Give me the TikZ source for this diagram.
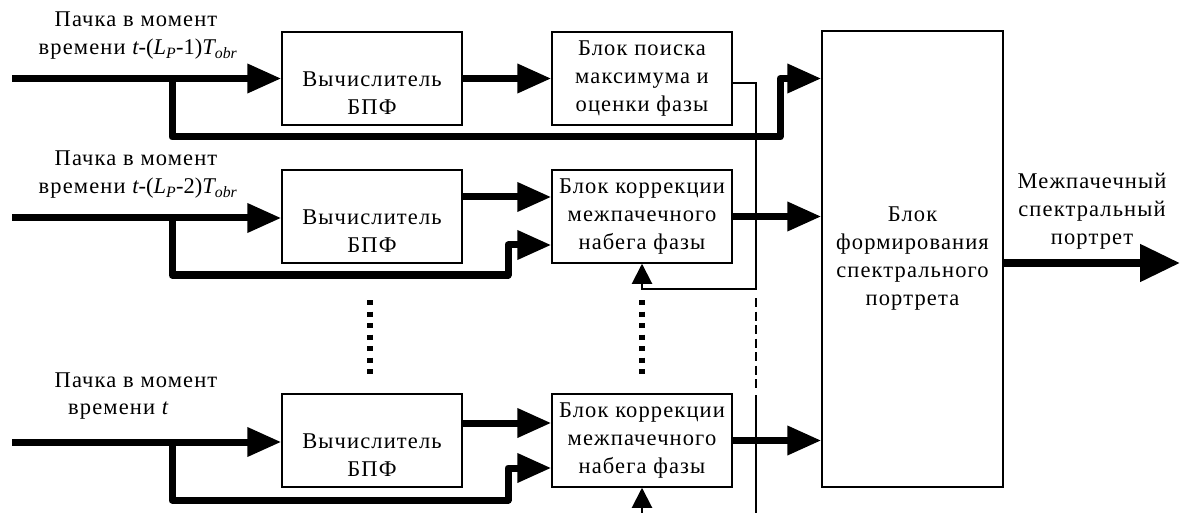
\documentclass[tikz,border=0pt]{standalone}
\usepackage{fontspec}
\setmainfont{Liberation Serif}[LetterSpace=5]
\newfontfamily\formulafont{Liberation Serif}
\usetikzlibrary{arrows.meta,calc}
\begin{document}
\begin{tikzpicture}[x=1pt,y=-1pt,
  font=\fontsize{22.5}{28}\selectfont,
  box/.style={draw, line width=1.5pt, minimum width=180pt, minimum height=93pt, inner sep=0pt, align=center},
  vtxt/.style={align=center, inner sep=0pt, yshift=-15pt},
  txt/.style={inner sep=0pt, anchor=base},
  bus/.style={line width=7pt, line join=round, -{Triangle[length=34pt,width=28pt]}},
  outbus/.style={line width=8pt, -{Triangle[length=40pt,width=36pt]}},
  sig/.style={line width=2pt},
  sigarrow/.style={sig, -{Triangle[length=20pt,width=20pt]}},
  dashline/.style={line width=2.6pt, dash pattern=on 9pt off 4.5pt},
  dotline/.style={line width=5.5pt, dash pattern=on 5pt off 6.5pt}]
\useasboundingbox (0,0) rectangle (1181,513);

% boxes
\node[box, label={[vtxt]center:{Вычислитель\\БПФ}}] (v1) at (372,78.5) {};
\node[box, label={[vtxt]center:{Вычислитель\\БПФ}}] (v2) at (372,216.5) {};
\node[box, label={[vtxt]center:{Вычислитель\\БПФ}}] (v3) at (372,440.5) {};
\node[box] (p) at (642,78.5) {Блок поиска\\максимума и\\оценки фазы};
\node[box] (c2) at (642,216.5) {Блок коррекции\\межпачечного\\набега фазы};
\node[box] (c3) at (642,440.5) {Блок коррекции\\межпачечного\\набега фазы};
\node[box, minimum width=181pt, minimum height=456pt] (big) at (912.5,259) {Блок\\формирования\\спектрального\\портрета};

% input labels
\node[txt] (l1a) at (136,27) {Пачка в момент};
\node[txt] (l1b) at (138,55) {времени {\formulafont\itshape t\upshape-(\itshape L\textsubscript{P}\upshape-1)\itshape T\textsubscript{obr}}};
\node[txt] (l2a) at (136,166) {Пачка в момент};
\node[txt] (l2b) at (138,194) {времени {\formulafont\itshape t\upshape-(\itshape L\textsubscript{P}\upshape-2)\itshape T\textsubscript{obr}}};
\node[txt] (l3a) at (136,387) {Пачка в момент};
\node[txt, anchor=base west] (l3b) at (68,414) {времени {\formulafont\itshape t}};
\node[align=center, inner sep=0pt] (lout) at (1092,211) {Межпачечный\\спектральный\\портрет};

% coordinates
\coordinate (in1) at (12,78.5);
\coordinate (in2) at (12,218);
\coordinate (in3) at (12,442);
\coordinate (j1) at (172,78.5);
\coordinate (j2) at (172,218);
\coordinate (j3) at (172,442);
\coordinate (k1) at (780,137);
\coordinate (k2) at (508,275);
\coordinate (k3) at (508,500);
\coordinate (f1) at (756,289);
\coordinate (f2) at (756,298);
\coordinate (f3) at (756,391);
\coordinate (f4) at (756,395);
\coordinate (f5) at (756,513);
\coordinate (f6) at (642,513);
\coordinate (d1) at (370,300);
\coordinate (d2) at (370,374);
\coordinate (d3) at (642,300);
\coordinate (d4) at (642,374);
\coordinate (out) at (1180,263);

% row 1
\draw[bus] (in1) -- (v1.west);
\draw[bus] (v1.east) -- (p.west);
\draw[bus] (j1) |- (k1) |- (big.west |- j1);
% row 2
\draw[bus] (in2) -- (in2 -| v2.west);
\draw[bus] ($(v2.east)+(0,-19.5)$) -- ($(c2.west)+(0,-19.5)$);
\draw[bus] (j2) |- (k2) |- ($(c2.west)+(0,28.5)$);
% row 3
\draw[bus] (in3) -- (in3 -| v3.west);
\draw[bus] ($(v3.east)+(0,-17.5)$) -- ($(c3.west)+(0,-17.5)$);
\draw[bus] (j3) |- (k3) |- ($(c3.west)+(0,27.5)$);

% phase feedback
\draw[sigarrow] ($(p.east)+(0,5)$) -| (f1) -| (c2.south);
\draw[dashline] (f2) -- (f3);
\draw[sig] (f4) -- (f5);
\draw[sigarrow] (f6) -- (c3.south);

% outputs to the portrait block
\draw[bus] (c2.east) -- (c2.east -| big.west);
\draw[bus] (c3.east) -- (c3.east -| big.west);
\draw[outbus] ($(big.east)+(0,4)$) -- (out);

% ellipsis dots
\draw[dotline] (d1) -- (d2);
\draw[dotline] (d3) -- (d4);
\end{tikzpicture}
\end{document}
